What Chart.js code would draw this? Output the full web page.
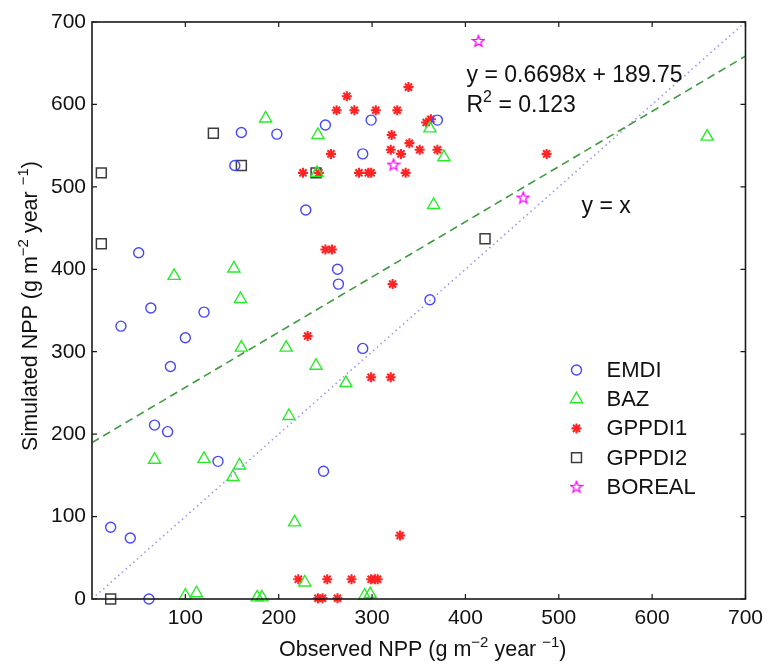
<!DOCTYPE html>
<html>
<head>
<meta charset="utf-8">
<script src="https://cdn.jsdelivr.net/npm/chart.js@4"></script>
<style>
    html, body { margin: 0; padding: 0; background: #fff; }
    #wrap { width: 770px; height: 664px; }
</style>
</head>
<body>
<div id="wrap"><canvas id="nppChart" width="770" height="664"></canvas></div>
<script>
// observed (x) vs simulated (y) NPP
const emdi = [[160,566],[198,564],[250,575],[299,581],[153,526],[290,540],[229,472],[50,420],[263,400],[264,382],[63,353],[120,348],[370,581],[362,363],[31,331],[100,317],[84,282],[290,304],[67,211],[81,203],[135,167],[248,155],[20,87],[41,74],[61,0]];
const baz = [[186,583],[242,563],[241,517],[88,392],[152,401],[159,364],[362,571],[377,536],[366,478],[659,561],[160,305],[208,305],[240,283],[272,262],[211,222],[67,169],[120,170],[158,162],[151,148],[217,93],[228,20],[100,4],[112,7],[177,2],[182,2],[292,4],[298,6]];
const gppdi1 = [[339,621],[273,610],[262,593],[281,593],[304,593],[327,593],[358,578],[363,582],[321,563],[340,553],[351,545],[320,545],[331,540],[256,540],[336,517],[226,517],[243,517],[286,517],[296,517],[299,517],[250,424],[257,424],[322,382],[370,545],[487,540],[231,319],[299,269],[320,269],[330,77],[221,24],[252,24],[278,24],[299,24],[303,24],[306,24],[242,1],[247,1],[263,1]];
const gppdi2 = [[130,565],[160,526],[240,517],[10,517],[10,431],[421,437],[20,0]];
const boreal = [[414,677],[323,527],[462,487]];

const fitSlope = 0.6698;
const fitIntercept = 189.75;
const axisMin = 0;
const axisMax = 700;
const xTicks = [100, 200, 300, 400, 500, 600, 700];
const yTicks = [0, 100, 200, 300, 400, 500, 600, 700];

const FONT = "'Liberation Sans', Arial, Helvetica, sans-serif";

function toPoints(arr) {
    return arr.map(p => ({ x: p[0], y: p[1] }));
}

// hollow five point star, Chart.js has no such pointStyle
function makeStar(color) {
    const c = document.createElement("canvas");
    c.width = 14; c.height = 14;
    const g = c.getContext("2d");
    g.strokeStyle = color;
    g.lineWidth = 1.3;
    g.beginPath();
    for (let i = 0; i < 10; i++) {
        const r = i % 2 ? 2.5 : 6;
        const a = -Math.PI / 2 + i * Math.PI / 5;
        const px = 7 + r * Math.cos(a), py = 7.5 + r * Math.sin(a);
        if (i === 0) g.moveTo(px, py); else g.lineTo(px, py);
    }
    g.closePath();
    g.stroke();
    return c;
}

const series = [
    { label: "EMDI", data: emdi, color: "rgb(70,70,255)", style: "circle", radius: 5, width: 1.4 },
    { label: "BAZ", data: baz, color: "rgb(40,235,40)", style: "triangle", radius: 7, width: 1.4 },
    { label: "GPPDI1", data: gppdi1, color: "rgb(255,35,35)", style: "star", radius: 5, width: 2.1 },
    { label: "GPPDI2", data: gppdi2, color: "rgb(60,60,60)", style: "rect", radius: 7, width: 1.5 },
    { label: "BOREAL", data: boreal, color: "rgb(255,0,255)", style: makeStar("rgb(255,0,255)"), radius: 6, width: 1.3 }
];

// draws text with superscript parts, parts = [[text, isSup], ...]
function drawRich(ctx, parts, x, y, size, align) {
    const supSize = Math.round(size * 0.7);
    let total = 0;
    parts.forEach(p => {
        ctx.font = (p[1] ? supSize : size) + "px " + FONT;
        total += ctx.measureText(p[0]).width;
    });
    let cx = align === "center" ? x - total / 2 : x;
    ctx.textAlign = "left";
    ctx.textBaseline = "alphabetic";
    parts.forEach(p => {
        ctx.font = (p[1] ? supSize : size) + "px " + FONT;
        ctx.fillText(p[0], cx, p[1] ? y - size * 0.42 : y);
        cx += ctx.measureText(p[0]).width;
    });
}

const decorPlugin = {
    id: "decor",
    afterDraw(chart) {
        const ctx = chart.ctx;
        const a = chart.chartArea;
        const xs = chart.scales.x, ys = chart.scales.y;
        ctx.save();

        // box with inward ticks on all four sides
        ctx.strokeStyle = "#1a1a1a";
        ctx.lineWidth = 1.6;
        ctx.strokeRect(a.left, a.top, a.right - a.left, a.bottom - a.top);
        ctx.lineWidth = 1.2;
        ctx.beginPath();
        xs.ticks.forEach(t => {
            const px = xs.getPixelForValue(t.value);
            ctx.moveTo(px, a.bottom); ctx.lineTo(px, a.bottom - 5);
            ctx.moveTo(px, a.top); ctx.lineTo(px, a.top + 5);
        });
        ys.ticks.forEach(t => {
            const py = ys.getPixelForValue(t.value);
            ctx.moveTo(a.left, py); ctx.lineTo(a.left + 5, py);
            ctx.moveTo(a.right, py); ctx.lineTo(a.right - 5, py);
        });
        ctx.stroke();

        // axis titles
        ctx.fillStyle = "#111";
        drawRich(ctx, [["Observed NPP (g m", false], ["\u22122", true], [" year ", false], ["\u22121", true], [")", false]],
            (a.left + a.right) / 2 + 4, 656, 21.5, "center");
        ctx.save();
        ctx.translate(37, 306);
        ctx.rotate(-Math.PI / 2);
        drawRich(ctx, [["Simulated NPP (g m", false], ["\u22122", true], [" year ", false], ["\u22121", true], [")", false]],
            0, 0, 21.5, "center");
        ctx.restore();

        // regression text
        drawRich(ctx, [["y = " + fitSlope + "x + " + fitIntercept, false]], 466.5, 81.5, 23, "left");
        drawRich(ctx, [["R", false], ["2", true], [" = 0.123", false]], 466.5, 111.5, 23, "left");
        drawRich(ctx, [["y = x", false]], 581.5, 213, 23, "left");

        // legend
        series.forEach((s, i) => {
            const ly = 370 + i * 29.2;
            ctx.strokeStyle = s.color;
            ctx.fillStyle = "rgba(0,0,0,0)";
            ctx.lineWidth = s.width;
            Chart.helpers.drawPoint(ctx, { pointStyle: s.style, radius: s.radius, borderWidth: s.width, rotation: 0 }, 576.5, ly);
            ctx.fillStyle = "#111";
            ctx.font = "22px " + FONT;
            ctx.textAlign = "left";
            ctx.textBaseline = "middle";
            ctx.fillText(s.label, 606.5, ly + 1);
        });
        ctx.restore();
    }
};

const datasets = series.map(s => ({
    type: "scatter",
    label: s.label,
    data: toPoints(s.data),
    pointStyle: s.style,
    pointRadius: s.radius,
    pointBorderWidth: s.width,
    borderColor: s.color,
    backgroundColor: "rgba(0,0,0,0)",
    clip: false
}));

datasets.unshift({
    type: "line",
    label: "fit",
    data: [{ x: axisMin, y: fitIntercept }, { x: axisMax, y: fitSlope * axisMax + fitIntercept }],
    borderColor: "rgb(60,155,60)",
    borderWidth: 1.6,
    borderDash: [8, 5],
    pointRadius: 0,
    fill: false
}, {
    type: "line",
    label: "y = x",
    data: [{ x: axisMin, y: axisMin }, { x: axisMax, y: axisMax }],
    borderColor: "rgb(150,150,255)",
    borderWidth: 1.6,
    borderDash: [1.5, 3.5],
    pointRadius: 0,
    fill: false
});

new Chart(document.getElementById("nppChart"), {
    type: "scatter",
    data: { datasets: datasets },
    options: {
        responsive: false,
        animation: false,
        events: [],
        layout: { padding: { left: 0, right: 22, top: 22, bottom: 0 } },
        plugins: { legend: { display: false }, tooltip: { enabled: false } },
        scales: {
            x: {
                type: "linear",
                min: axisMin,
                max: axisMax,
                afterBuildTicks: scale => { scale.ticks = xTicks.map(v => ({ value: v })); },
                afterFit: scale => { scale.height = 65; },
                grid: { display: false, drawTicks: false },
                border: { display: false },
                ticks: { color: "#111", padding: 7, maxRotation: 0, autoSkip: false, font: { family: FONT, size: 21 } }
            },
            y: {
                type: "linear",
                min: axisMin,
                max: axisMax,
                afterBuildTicks: scale => { scale.ticks = yTicks.map(v => ({ value: v })); },
                afterFit: scale => { scale.width = 92; },
                grid: { display: false, drawTicks: false },
                border: { display: false },
                ticks: { color: "#111", padding: 6, autoSkip: false, font: { family: FONT, size: 21 } }
            }
        }
    },
    plugins: [decorPlugin]
});
</script>
</body>
</html>
